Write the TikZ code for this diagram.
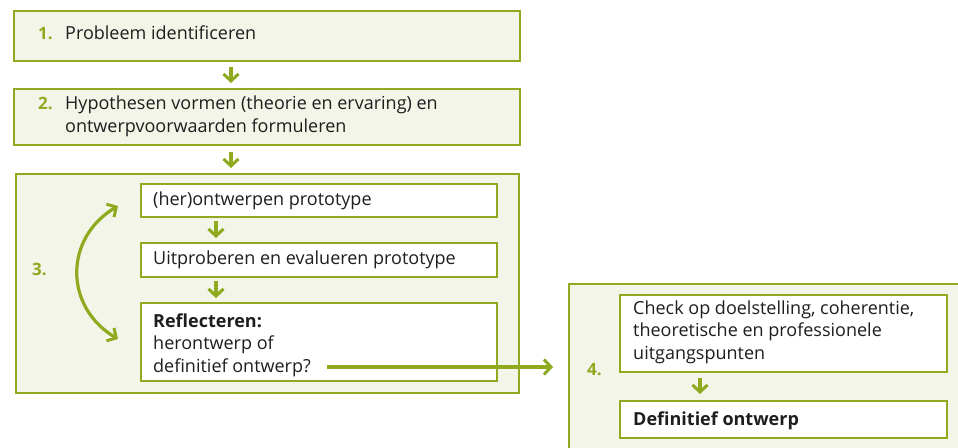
\documentclass[tikz,border=0pt]{standalone}
\usepackage{fontspec}
\setmainfont{Open Sans}
\usetikzlibrary{arrows.meta}
\definecolor{grn}{HTML}{8FAA1F}
\definecolor{pale}{HTML}{F3F5E9}
\definecolor{txt}{HTML}{1E1E1E}
\begin{document}
\begin{tikzpicture}[x=1pt,y=-1pt,
  outerbox/.style={draw=grn,line width=1.5pt,fill=pale,anchor=north west,inner sep=0pt},
  innerbox/.style={draw=grn,line width=1.5pt,fill=white,anchor=north west,inner sep=0pt},
  lbl/.style={anchor=base west,inner sep=0pt,text=txt,font=\fontsize{18}{22.5}\selectfont,align=left},
  num/.style={anchor=base west,inner sep=0pt,text=grn,font=\fontsize{17}{22}\selectfont\bfseries},
  tip/.tip={Straight Barb[length=7pt,width=15pt,line width=3pt]},
  flow/.style={draw=grn,line width=3.2pt,-tip}]
\useasboundingbox (0,0) rectangle (958,447);
% outer boxes
\node[outerbox,minimum width=506pt,minimum height=50pt] (b1) at (13,10) {};
\node[outerbox,minimum width=506pt,minimum height=56pt] (b2) at (13,88) {};
\node[outerbox,minimum width=503pt,minimum height=219pt] (b3) at (15,173) {};
\node[outerbox,minimum width=420pt,minimum height=200pt] (b4) at (568,283) {};
% inner boxes
\node[innerbox,minimum width=356pt,minimum height=33pt] (i1) at (140,183) {};
\node[innerbox,minimum width=356pt,minimum height=34pt] (i2) at (140,242) {};
\node[innerbox,minimum width=356pt,minimum height=78pt] (i3) at (140,302) {};
\node[innerbox,minimum width=327pt,minimum height=77pt] (c1) at (619,294) {};
\node[innerbox,minimum width=327pt,minimum height=37pt] (c2) at (619,400) {};
% texts (multi-line nodes: base = last line)
\node[num] (n1) at (38,39) {1.};
\node[lbl] (t1) at (65,39) {Probleem identificeren};
\node[num] (n2) at (38,109) {2.};
\node[lbl] (t2) at (65,132) {Hypothesen vormen (theorie en ervaring) en\\ontwerpvoorwaarden formuleren};
\node[num] (n3) at (32,275) {3.};
\node[lbl] (ti1) at (153,205) {(her)ontwerpen prototype};
\node[lbl] (ti2) at (153,264) {Uitproberen en evalueren prototype};
\node[lbl] (ti3) at (153,372) {\textbf{Reflecteren:}\\herontwerp of\\definitief ontwerp?};
\node[num] (n4) at (587,375) {4.};
\node[lbl] (tc1) at (633,359) {Check op doelstelling, coherentie,\\theoretische en professionele\\uitgangspunten};
\node[lbl] (tc2) at (633,425) {\textbf{Definitief ontwerp}};
% arrows
\coordinate (ax) at (231,0);
\coordinate (bx) at (216,0);
\coordinate (cx) at (700,0);
\draw[flow,shorten <=5pt,shorten >=5pt] (b1.south -| ax) -- (b2.north -| ax);
\draw[flow,shorten <=6pt,shorten >=5pt] (b2.south -| ax) -- (b3.north -| ax);
\draw[flow,shorten <=3pt,shorten >=4pt] (i1.south -| bx) -- (i2.north -| bx);
\draw[flow,shorten <=3pt,shorten >=4pt] (i2.south -| bx) -- (i3.north -| bx);
\draw[flow,shorten <=5pt,shorten >=6pt] (c1.south -| cx) -- (c2.north -| cx);
% loop arrow
\coordinate (la) at (118,339);
\coordinate (lb) at (118,206);
\draw[draw=grn,line width=3.2pt,tip-tip] (lb) .. controls (64,238) and (64,307) .. (la);
% exit arrow
\coordinate (hs) at (327,367);
\coordinate (he) at (553,367);
\draw[flow] (hs) -- (he);
\end{tikzpicture}
\end{document}
